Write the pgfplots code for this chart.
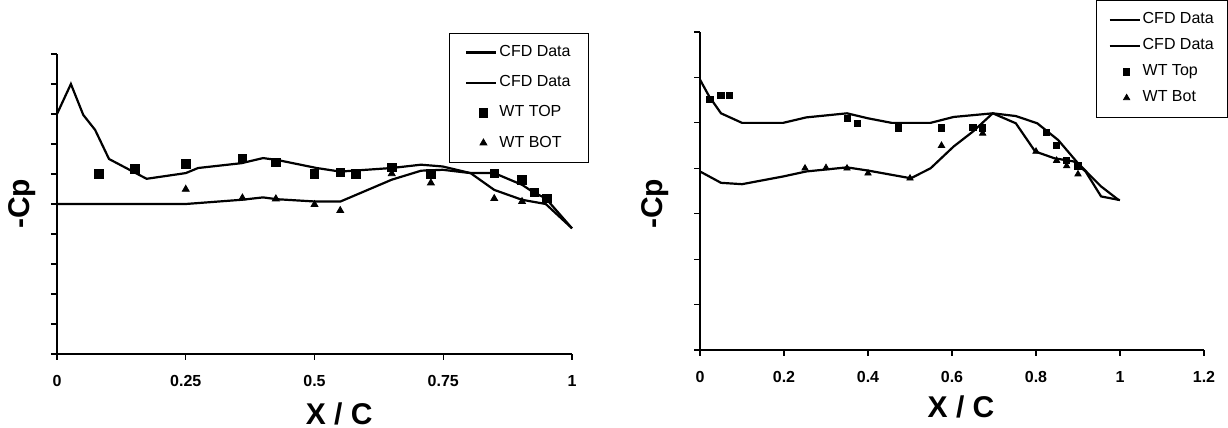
\documentclass[border=0pt]{standalone}
\usepackage{fontspec}
\setmainfont{Liberation Sans}
\usepackage{pgfplots}
\pgfplotsset{compat=1.18}

\pgfplotsset{
  cpstyle/.style={
    scale only axis,
    axis x line=bottom, axis y line=left,
    axis line style={-, black, line width=0.6pt},
    tick style={black, line width=0.6pt},
    tick align=outside,
    major tick length=3pt,
    yticklabels={},
    ylabel={-Cp}, xlabel={X / C},
    label style={font=\fontsize{15}{15}\selectfont\bfseries},
    tick label style={font=\fontsize{8}{8}\selectfont\bfseries},
    xticklabel style={yshift=-4pt},
    legend style={font=\fontsize{8}{8}\selectfont, draw=black, line width=0.4pt,
      row sep=4pt, inner xsep=8pt, inner ysep=4pt,
      nodes={inner xsep=1pt}},
    legend cell align=left,
    clip=false,
  },
  cfd/.style={black, line width=1.1pt, mark=none},
  cfdleg/.style={legend image code/.code={\draw[##1] (0pt,0pt)--(15pt,0pt);}},
  wttop/.style={only marks, mark=square*, mark size=2.1pt, black},
  wtbot/.style={only marks, mark=triangle*, mark size=2pt, black},
}

\begin{document}
\begin{tikzpicture}
\path[use as bounding box] (0,0) rectangle (614pt,214pt);

% left chart
\begin{axis}[cpstyle, at={(28.5pt,37pt)}, anchor=south west,
  width=257.5pt, height=150pt,
  xmin=0, xmax=1, ymin=0, ymax=10,
  xtick={0,0.25,0.5,0.75,1}, xticklabels={0,0.25,0.5,0.75,1},
  ytick={0,1,...,10},
  ylabel style={at={(axis description cs:-0.068,0.5)}, anchor=center},
  xlabel style={at={(axis description cs:0.548,-0.2)}, anchor=center},
  legend style={at={(1.033,1.07)}, anchor=north east}]
\addplot[cfd, cfdleg] coordinates {
 (0,8.0) (0.027,9.0) (0.051,7.97) (0.074,7.47) (0.101,6.5) (0.174,5.84)
 (0.25,6.03) (0.274,6.2) (0.358,6.36) (0.40,6.53) (0.427,6.47) (0.504,6.2)
 (0.55,6.08) (0.65,6.2) (0.707,6.31) (0.749,6.25) (0.803,6.03) (0.849,5.47)
 (0.903,5.14) (0.949,5.0) (1.0,4.19)};
\addplot[cfd, cfdleg] coordinates {
 (0,5.0) (0.25,5.0) (0.358,5.14) (0.40,5.22) (0.427,5.16) (0.504,5.08)
 (0.55,5.08) (0.65,5.81) (0.707,6.11) (0.749,6.14) (0.803,6.03) (0.849,6.03)
 (0.903,5.64) (0.926,5.38) (0.949,5.19) (1.0,4.19)};
\addplot[wttop] coordinates {
 (0.081,6.0) (0.151,6.17) (0.25,6.33) (0.36,6.52) (0.425,6.38) (0.5,6.0)
 (0.55,6.05) (0.58,6.0) (0.65,6.22) (0.726,6.0) (0.849,6.02) (0.903,5.8)
 (0.927,5.39) (0.951,5.19)};
\addplot[wtbot] coordinates {
 (0.25,5.49) (0.36,5.2) (0.425,5.17) (0.5,4.98) (0.55,4.78) (0.65,6.01)
 (0.726,5.7) (0.849,5.18) (0.903,5.08)};
\legend{CFD Data, CFD Data, WT TOP, WT BOT}
\end{axis}

% right chart
\begin{axis}[cpstyle, at={(350pt,39pt)}, anchor=south west,
  width=252pt, height=159pt,
  xmin=0, xmax=1.2, ymin=0, ymax=7,
  xtick={0,0.2,0.4,0.6,0.8,1,1.2}, xticklabels={0,0.2,0.4,0.6,0.8,1,1.2},
  ytick={0,1,...,7},
  ylabel style={at={(axis description cs:-0.089,0.46)}, anchor=center},
  xlabel style={at={(axis description cs:0.518,-0.18)}, anchor=center},
  legend style={at={(1.048,1.10)}, anchor=north east, row sep=2pt, inner xsep=6pt}]
\addplot[cfd, cfdleg] coordinates {
 (0,5.95) (0.022,5.58) (0.05,5.21) (0.1,5.0) (0.198,5.0) (0.253,5.12)
 (0.35,5.21) (0.40,5.1) (0.456,5.0) (0.549,5.0) (0.604,5.13) (0.697,5.21)
 (0.752,5.15) (0.803,4.99) (0.853,4.62) (0.9,4.11) (0.955,3.6) (0.997,3.3)};
\addplot[cfd, cfdleg] coordinates {
 (0,3.93) (0.05,3.68) (0.1,3.65) (0.198,3.82) (0.253,3.93) (0.35,4.02)
 (0.40,3.95) (0.502,3.78) (0.549,4.0) (0.604,4.48) (0.65,4.81) (0.697,5.21)
 (0.752,4.99) (0.798,4.37) (0.844,4.22) (0.89,4.15) (0.918,3.93) (0.955,3.38)
 (1.0,3.3)};
\addplot[wttop, mark size=1.6pt] coordinates {
 (0.024,5.52) (0.05,5.6) (0.07,5.6) (0.351,5.1) (0.375,4.99) (0.473,4.89)
 (0.575,4.89) (0.65,4.9) (0.673,4.89) (0.825,4.79) (0.849,4.5) (0.873,4.17)
 (0.9,4.05)};
\addplot[wtbot, mark size=1.8pt] coordinates {
 (0.25,4.0) (0.3,4.01) (0.35,4.0) (0.40,3.89) (0.5,3.78) (0.575,4.5)
 (0.673,4.77) (0.8,4.37) (0.849,4.17) (0.873,4.05) (0.9,3.87)};
\legend{CFD Data, CFD Data, WT Top, WT Bot}
\end{axis}
\end{tikzpicture}
\end{document}
